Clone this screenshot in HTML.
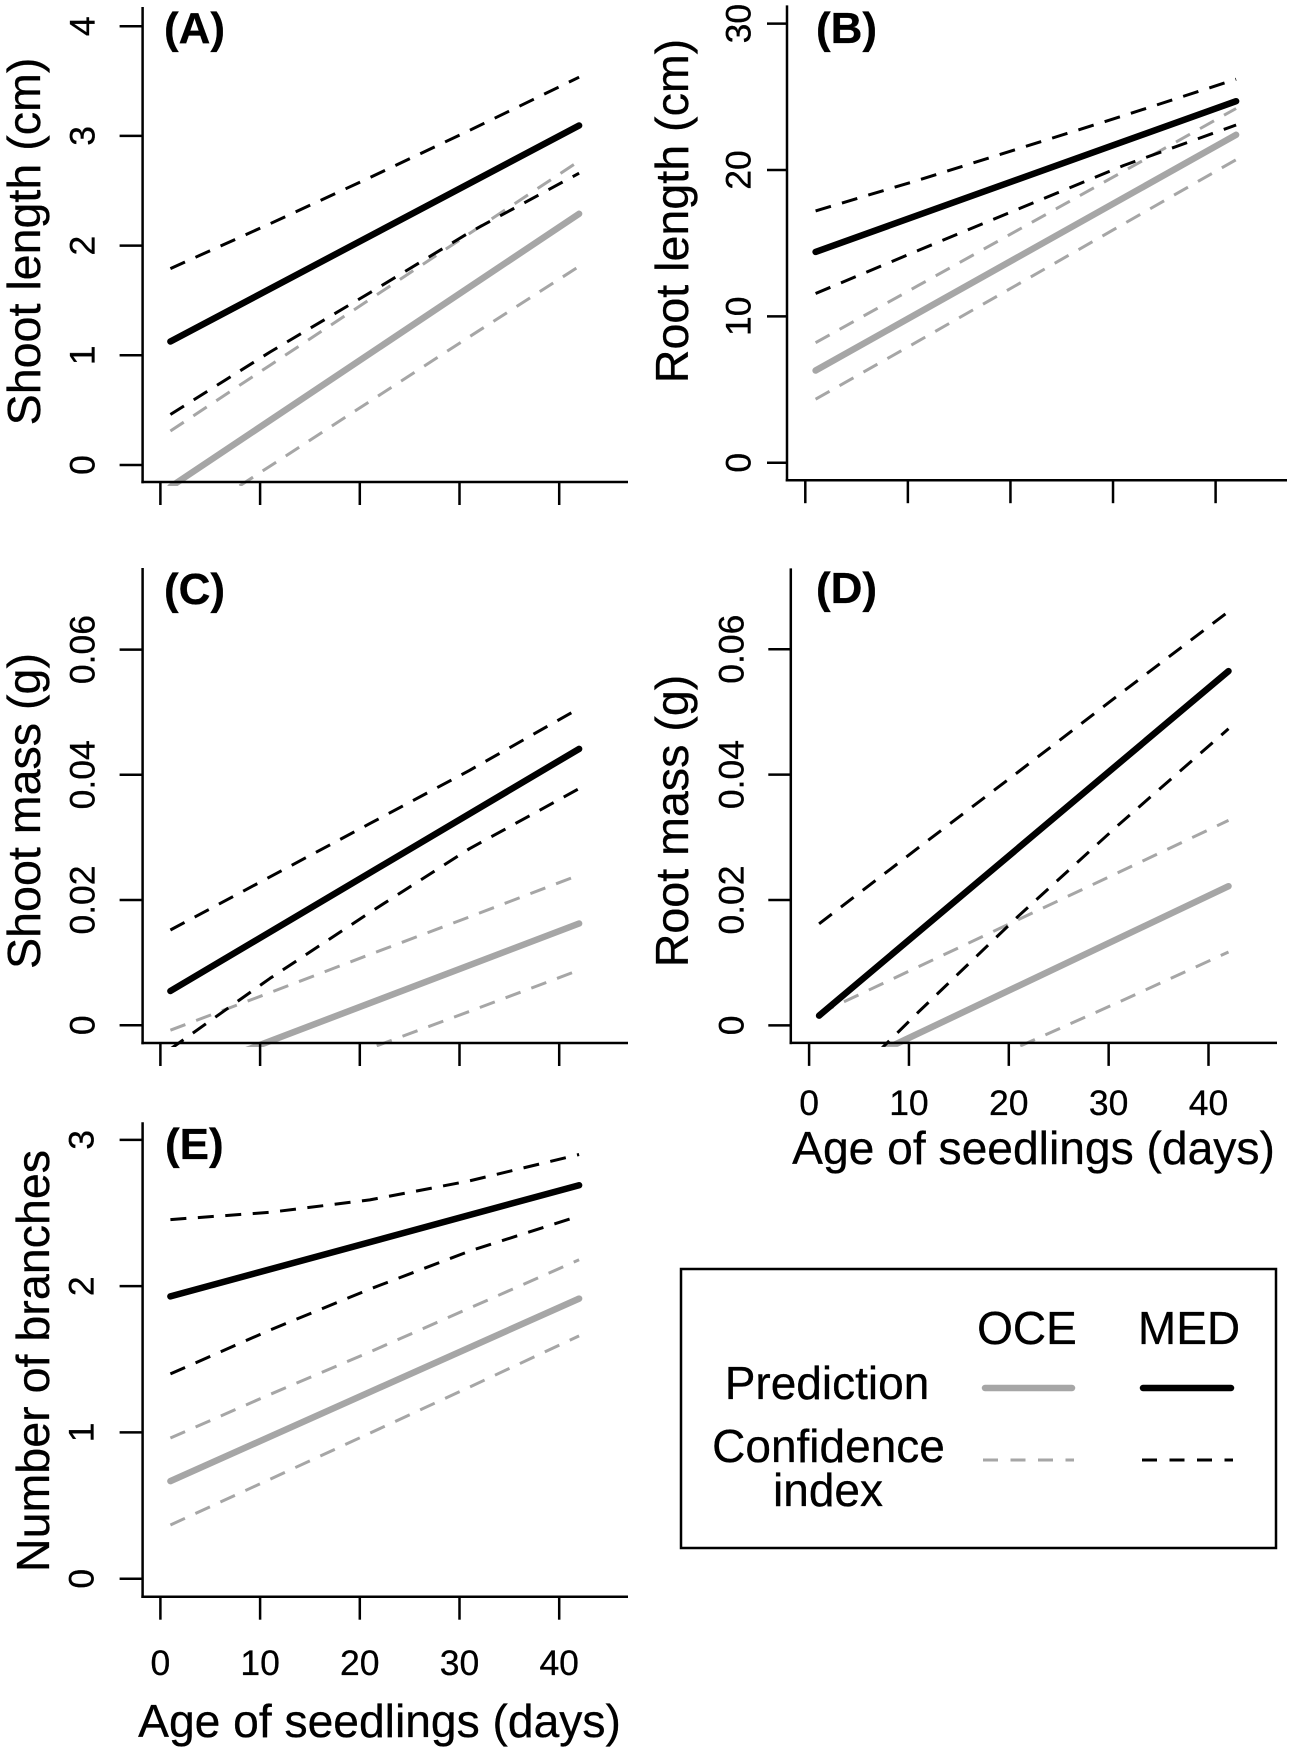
<!DOCTYPE html>
<html lang="en">
<head>
<meta charset="utf-8">
<title>Seedling growth by age</title>
<style>
  html, body { margin: 0; padding: 0; background: #fff; }
  svg { display: block; }
  text { font-family: "Liberation Sans", Arial, sans-serif; fill: #000; stroke: #000; stroke-width: 0.3px; }
  .axis-title { font-size: 46.6px; text-anchor: middle; }
  .axis-title.x-title { font-size: 46.2px; }
  .tag { font-size: 44px; font-weight: bold; }
  .tick-label { font-size: 35.5px; text-anchor: middle; }
  .legend-text { font-size: 46px; text-anchor: middle; }
</style>
</head>
<body>
<svg id="figure" xmlns="http://www.w3.org/2000/svg" width="1293" height="1753" viewBox="0 0 1293 1753">
  <rect x="0" y="0" width="1293" height="1753" fill="#fff"/>

  <g id="panel-a">
    <text class="axis-title" transform="translate(40,241.5) rotate(-90)">Shoot length (cm)</text>
    <text class="tag" x="164" y="43">(A)</text>
  </g>
  <g id="panel-b">
    <text class="axis-title" transform="translate(688,211) rotate(-90)">Root length (cm)</text>
    <text class="tag" x="816" y="43">(B)</text>
  </g>
  <g id="panel-c">
    <text class="axis-title" transform="translate(40,811) rotate(-90)">Shoot mass (g)</text>
    <text class="tag" x="164" y="604">(C)</text>
  </g>
  <g id="panel-d">
    <text class="axis-title" transform="translate(688,821) rotate(-90)">Root mass (g)</text>
    <text class="tag" x="816" y="603">(D)</text>
    <text class="axis-title x-title" x="1033.5" y="1164">Age of seedlings (days)</text>
  </g>
  <g id="panel-e">
    <text class="axis-title" transform="translate(49,1361) rotate(-90)">Number of branches</text>
    <text class="tag" x="165" y="1159">(E)</text>
    <text class="axis-title x-title" x="379.5" y="1737">Age of seedlings (days)</text>
  </g>

  <g id="legend">
    <rect x="681" y="1269" width="595" height="279" fill="#fff" stroke="#000" stroke-width="2.5"/>
    <text class="legend-text" x="1027" y="1344">OCE</text>
    <text class="legend-text" x="1189" y="1344">MED</text>
    <text class="legend-text" x="827" y="1399">Prediction</text>
    <text class="legend-text" x="828.5" y="1462">Confidence</text>
    <text class="legend-text" x="828" y="1506">index</text>
    <line x1="985" y1="1388" x2="1072" y2="1388" stroke="#a6a6a6" stroke-width="6.5" stroke-linecap="round"/>
    <line x1="1143" y1="1388" x2="1231" y2="1388" stroke="#000" stroke-width="6.5" stroke-linecap="round"/>
    <line x1="983" y1="1460" x2="1074" y2="1460" stroke="#a6a6a6" stroke-width="3" stroke-dasharray="15 12.5"/>
    <line x1="1142" y1="1460" x2="1233" y2="1460" stroke="#000" stroke-width="3" stroke-dasharray="15 12.5"/>
  </g>
</svg>

<script>
// Shared x values
const ciAges = [1, 11, 21, 31, 42];
const predAges = [1, 42];
const xTicks = [0, 10, 20, 30, 40];
const xTickLabels = ['0', '10', '20', '30', '40'];

// Panel A: shoot length (cm)
const aYTicks = [0, 1, 2, 3, 4];
const aYTickLabels = ['0', '1', '2', '3', '4'];
const aOcePred = [-0.2, 2.29];
const aMedPred = [1.126, 3.095];
const aOceUpper = [0.31, 0.91, 1.51, 2.11, 2.77];
const aOceLower = [-0.6, -0.01, 0.58, 1.17, 1.81];
const aMedUpper = [1.79, 2.2, 2.62, 3.05, 3.535];
const aMedLower = [0.46, 1.03, 1.57, 2.12, 2.66];

// Panel B: root length (cm)
const bYTicks = [0, 10, 20, 30];
const bYTickLabels = ['0', '10', '20', '30'];
const bOcePred = [6.3, 22.4];
const bMedPred = [14.4, 24.7];
const bOceUpper = [8.2, 12.1, 16.0, 19.9, 24.2];
const bOceLower = [4.34, 8.3, 12.3, 16.3, 20.7];
const bMedUpper = [17.2, 19.3, 21.5, 23.7, 26.2];
const bMedLower = [11.56, 14.5, 17.4, 20.3, 23.07];

// Panel C: shoot mass (g)
const cYTicks = [0, 0.02, 0.04, 0.06];
const cYTickLabels = ['0', '0.02', '0.04', '0.06'];
const cOcePred = [-0.0086, 0.01625];
const cMedPred = [0.00547, 0.04414];
const cOceUpper = [-0.0008, 0.0052, 0.0113, 0.0173, 0.024];
const cOceLower = [-0.0155, -0.0096, -0.0037, 0.0022, 0.0088];
const cMedUpper = [0.0152, 0.0237, 0.0322, 0.0407, 0.0506];
const cMedLower = [-0.0038, 0.0075, 0.018, 0.0282, 0.0378];

// Panel D: root mass (g)
const dYTicks = [0, 0.02, 0.04, 0.06];
const dYTickLabels = ['0', '0.02', '0.04', '0.06'];
const dOcePred = [-0.0088, 0.0222];
const dMedPred = [0.00156, 0.0565];
const dOceUpper = [0.0019, 0.0094, 0.0169, 0.0244, 0.0327];
const dOceLower = [-0.0175, -0.0105, -0.0034, 0.0037, 0.0117];
const dMedUpper = [0.0162, 0.0284, 0.0405, 0.0527, 0.066];
const dMedLower = [-0.0135, 0.0022, 0.0175, 0.032, 0.0473];

// Panel E: number of branches
const eYTicks = [0, 1, 2, 3];
const eYTickLabels = ['0', '1', '2', '3'];
const eOcePred = [0.667, 1.915];
const eMedPred = [1.93, 2.69];
const eOceUpper = [0.962, 1.26, 1.55, 1.85, 2.18];
const eOceLower = [0.367, 0.68, 0.995, 1.31, 1.66];
const eMedUpper = [2.455, 2.505, 2.59, 2.72, 2.9];
const eMedLower = [1.4, 1.7, 1.98, 2.24, 2.48];

const SVG_NS = 'http://www.w3.org/2000/svg';
const GREY = '#a6a6a6';
const BLACK = '#000';

function make(tag, attrs, parent) {
  const node = document.createElementNS(SVG_NS, tag);
  Object.keys(attrs).forEach(function (k) { node.setAttribute(k, attrs[k]); });
  parent.appendChild(node);
  return node;
}

function linearScale(v0, p0, v1, p1) {
  return function (v) { return p0 + (v - v0) * (p1 - p0) / (v1 - v0); };
}

function drawPanel(cfg) {
  const group = document.getElementById('panel-' + cfg.id);
  const x = linearScale(0, cfg.xPx0, 40, cfg.xPx40);
  const y = linearScale(cfg.yTicks[0], cfg.yPxLow, cfg.yTicks[cfg.yTicks.length - 1], cfg.yPxHigh);

  // Clip marks to the plot region, just past the x axis
  const clip = make('clipPath', { id: 'clip-' + cfg.id }, group);
  make('rect', { x: cfg.axisX, y: cfg.axisTop, width: cfg.axisRight - cfg.axisX, height: cfg.axisBottom + 4 - cfg.axisTop }, clip);

  const marks = make('g', { 'clip-path': 'url(#clip-' + cfg.id + ')' }, group);
  
  

  const series = [
    { key: 'oce-upper-confidence', ages: ciAges, values: cfg.oceUpper, color: GREY, dashed: true },
    { key: 'oce-lower-confidence', ages: ciAges, values: cfg.oceLower, color: GREY, dashed: true },
    { key: 'oce-prediction', ages: predAges, values: cfg.ocePred, color: GREY, dashed: false },
    { key: 'med-upper-confidence', ages: ciAges, values: cfg.medUpper, color: BLACK, dashed: true },
    { key: 'med-lower-confidence', ages: ciAges, values: cfg.medLower, color: BLACK, dashed: true },
    { key: 'med-prediction', ages: predAges, values: cfg.medPred, color: BLACK, dashed: false }
  ];
  series.forEach(function (s) {
    const points = s.values.map(function (v, i) {
      return x(s.ages[i]).toFixed(1) + ',' + y(v).toFixed(1);
    }).join(' ');
    const line = make('polyline', {
      points: points,
      fill: 'none',
      stroke: s.color,
      'stroke-width': s.dashed ? 3 : 6.5,
      'stroke-linecap': s.dashed ? 'butt' : 'round',
      'stroke-linejoin': 'round'
    }, marks);
    if (s.dashed) line.setAttribute('stroke-dasharray', '16 11.5');
    
    
  });

  // Axis lines
  const yAxis = make('line', { x1: cfg.axisX, y1: cfg.axisTop, x2: cfg.axisX, y2: cfg.axisBottom + 1.25, stroke: BLACK, 'stroke-width': 2.5 }, group);
  
  
  const xAxis = make('line', { x1: cfg.axisX - 1.25, y1: cfg.axisBottom, x2: cfg.axisRight, y2: cfg.axisBottom, stroke: BLACK, 'stroke-width': 2.5 }, group);
  
  

  // Y ticks with rotated labels
  cfg.yTicks.forEach(function (t, i) {
    const py = y(t);
    const tick = make('line', { x1: cfg.axisX, y1: py, x2: cfg.axisX - cfg.yTickLen, y2: py, stroke: BLACK, 'stroke-width': 2.5 }, group);
    
    
    const label = make('text', { class: 'tick-label', transform: 'translate(' + cfg.yLabelX + ',' + py.toFixed(1) + ') rotate(-90)' }, group);
    label.textContent = cfg.yTickLabels[i];
    
    
  });

  // X ticks, with labels only where the panel prints them
  xTicks.forEach(function (t, i) {
    const px = x(t);
    const tick = make('line', { x1: px, y1: cfg.axisBottom, x2: px, y2: cfg.axisBottom + 23, stroke: BLACK, 'stroke-width': 2.5 }, group);
    
    
    if (cfg.xLabelY) {
      const label = make('text', { class: 'tick-label', x: px, y: cfg.xLabelY }, group);
      label.textContent = xTickLabels[i];
      
      
    }
  });
}

drawPanel({
  id: 'a', xPx0: 160.4, xPx40: 559.2, yPxLow: 465, yPxHigh: 26.2,
  axisX: 142.6, axisTop: 7, axisBottom: 482, axisRight: 628, yTickLen: 23, yLabelX: 94.5,
  yTicks: aYTicks, yTickLabels: aYTickLabels,
  ocePred: aOcePred, medPred: aMedPred, oceUpper: aOceUpper, oceLower: aOceLower, medUpper: aMedUpper, medLower: aMedLower
});
drawPanel({
  id: 'b', xPx0: 805.3, xPx40: 1215.6, yPxLow: 462.7, yPxHigh: 23.6,
  axisX: 787, axisTop: 5.4, axisBottom: 480.2, axisRight: 1287, yTickLen: 20, yLabelX: 750.4,
  yTicks: bYTicks, yTickLabels: bYTickLabels,
  ocePred: bOcePred, medPred: bMedPred, oceUpper: bOceUpper, oceLower: bOceLower, medUpper: bMedUpper, medLower: bMedLower
});
drawPanel({
  id: 'c', xPx0: 160.4, xPx40: 559.2, yPxLow: 1025.2, yPxHigh: 649.6,
  axisX: 142.6, axisTop: 568, axisBottom: 1043, axisRight: 628, yTickLen: 23, yLabelX: 94.5,
  yTicks: cYTicks, yTickLabels: cYTickLabels,
  ocePred: cOcePred, medPred: cMedPred, oceUpper: cOceUpper, oceLower: cOceLower, medUpper: cMedUpper, medLower: cMedLower
});
drawPanel({
  id: 'd', xPx0: 809.1, xPx40: 1208.5, yPxLow: 1025.4, yPxHigh: 649.2,
  axisX: 790.8, axisTop: 568.4, axisBottom: 1042.9, axisRight: 1277, yTickLen: 22.5, yLabelX: 743.3, xLabelY: 1115,
  yTicks: dYTicks, yTickLabels: dYTickLabels,
  ocePred: dOcePred, medPred: dMedPred, oceUpper: dOceUpper, oceLower: dOceLower, medUpper: dMedUpper, medLower: dMedLower
});
drawPanel({
  id: 'e', xPx0: 160.4, xPx40: 559.2, yPxLow: 1578.7, yPxHigh: 1139.9,
  axisX: 142.6, axisTop: 1122.3, axisBottom: 1596.7, axisRight: 628, yTickLen: 23, yLabelX: 93.3, xLabelY: 1675,
  yTicks: eYTicks, yTickLabels: eYTickLabels,
  ocePred: eOcePred, medPred: eMedPred, oceUpper: eOceUpper, oceLower: eOceLower, medUpper: eMedUpper, medLower: eMedLower
});
</script>
</body>
</html>
